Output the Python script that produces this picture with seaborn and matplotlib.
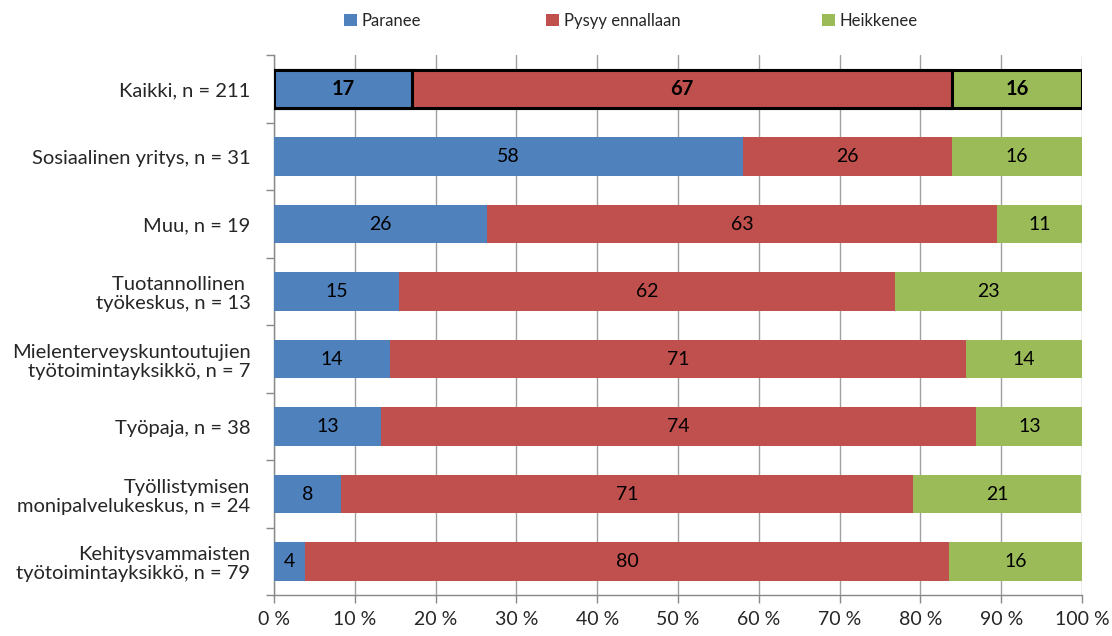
import pandas as pd
import numpy as np
import matplotlib
matplotlib.use("Agg")
import matplotlib.pyplot as plt
import seaborn as sns
from matplotlib.ticker import FixedLocator
from matplotlib.patches import Patch

# data (percent of respondents)
categories = [
    "Kaikki, n = 211",
    "Sosiaalinen yritys, n = 31",
    "Muu, n = 19",
    "Tuotannollinen \ntyökeskus, n = 13",
    "Mielenterveyskuntoutujien\ntyötoimintayksikkö, n = 7",
    "Työpaja, n = 38",
    "Työllistymisen\nmonipalvelukeskus, n = 24",
    "Kehitysvammaisten\ntyötoimintayksikkö, n = 79",
]
paranee = [17.1, 58.1, 26.3, 15.4, 14.3, 13.2, 8.3, 3.8]
pysyy = [66.8, 25.8, 63.2, 61.5, 71.4, 73.7, 70.8, 79.8]
heikkenee = [16.1, 16.1, 10.5, 23.1, 14.3, 13.2, 20.8, 16.4]
series = ["Paranee", "Pysyy ennallaan", "Heikkenee"]
colors = ["#4F81BD", "#C0504D", "#9BBB59"]
xticks = list(range(0, 101, 10))

sns.set_theme(style="white")
plt.rcParams["font.family"] = ["Lato", "DejaVu Sans"]

df = pd.DataFrame({"cat": categories, "Paranee": paranee,
                   "Pysyy ennallaan": pysyy, "Heikkenee": heikkenee})
df["c1"] = df["Paranee"]
df["c2"] = df["Paranee"] + df["Pysyy ennallaan"]
df["c3"] = df["c2"] + df["Heikkenee"]

fig = plt.figure(figsize=(11.12, 6.36), dpi=100)
ax = fig.add_axes([0.2465, 0.064, 0.7265, 0.849])

# stacked bars drawn back to front as cumulative totals
for col, c in [("c3", colors[2]), ("c2", colors[1]), ("c1", colors[0])]:
    sns.barplot(data=df, x=col, y="cat", color=c, saturation=1, width=0.57,
                ax=ax, linewidth=0, zorder=3)

# black outline on the "Kaikki" bar
for p in ax.patches:
    cy = p.get_y() + p.get_height() / 2
    if abs(cy) < 0.01:
        p.set_edgecolor("black")
        p.set_linewidth(2.2)

# value labels
for i in range(len(categories)):
    starts = [0, df["c1"][i], df["c2"][i]]
    vals = [paranee[i], pysyy[i], heikkenee[i]]
    for s, v in zip(starts, vals):
        ax.text(s + v / 2, i, f"{np.floor(v + 0.5):.0f}", ha="center", va="center",
                fontsize=14.5 if i == 0 else 14, fontweight="bold" if i == 0 else "normal",
                color="black", zorder=5)

ax.set_xlim(0, 100)
ax.set_ylim(7.5, -0.5)
ax.set_xticks(xticks)
ax.set_xticklabels([f"{t} %" for t in xticks], fontsize=14)
ax.set_xlabel("")
ax.set_ylabel("")
ax.set_yticks(range(len(categories)))
ax.set_yticklabels(categories, fontsize=14.5, multialignment="right", linespacing=1.15)
ax.yaxis.set_minor_locator(FixedLocator(np.arange(-0.5, 8, 1)))
ax.tick_params(axis="y", which="major", length=0, pad=17)
ax.tick_params(axis="y", which="minor", length=6, width=1, color="#888888", direction="out", left=True)
ax.tick_params(axis="x", which="major", length=6, width=1, color="#888888", direction="out", bottom=True, pad=5)

ax.grid(axis="x", color="#A0A0A0", linewidth=1, zorder=0)
ax.grid(axis="y", visible=False)
for s in ["top", "right"]:
    ax.spines[s].set_visible(False)
for s in ["left", "bottom"]:
    ax.spines[s].set_color("#888888")
    ax.spines[s].set_linewidth(1)

# legend entries sit in fixed-width slots across the top
for name, c, xpos in zip(series, colors, [344, 546, 822]):
    fig.legend([Patch(facecolor=c, edgecolor="none")], [name], loc="center left",
               bbox_to_anchor=(xpos / 1112, 1 - 21 / 636), frameon=False, fontsize=12,
               borderpad=0, borderaxespad=0, handlelength=0.75, handleheight=0.75,
               handletextpad=0.3)

fig.savefig("out.png", dpi=100)
